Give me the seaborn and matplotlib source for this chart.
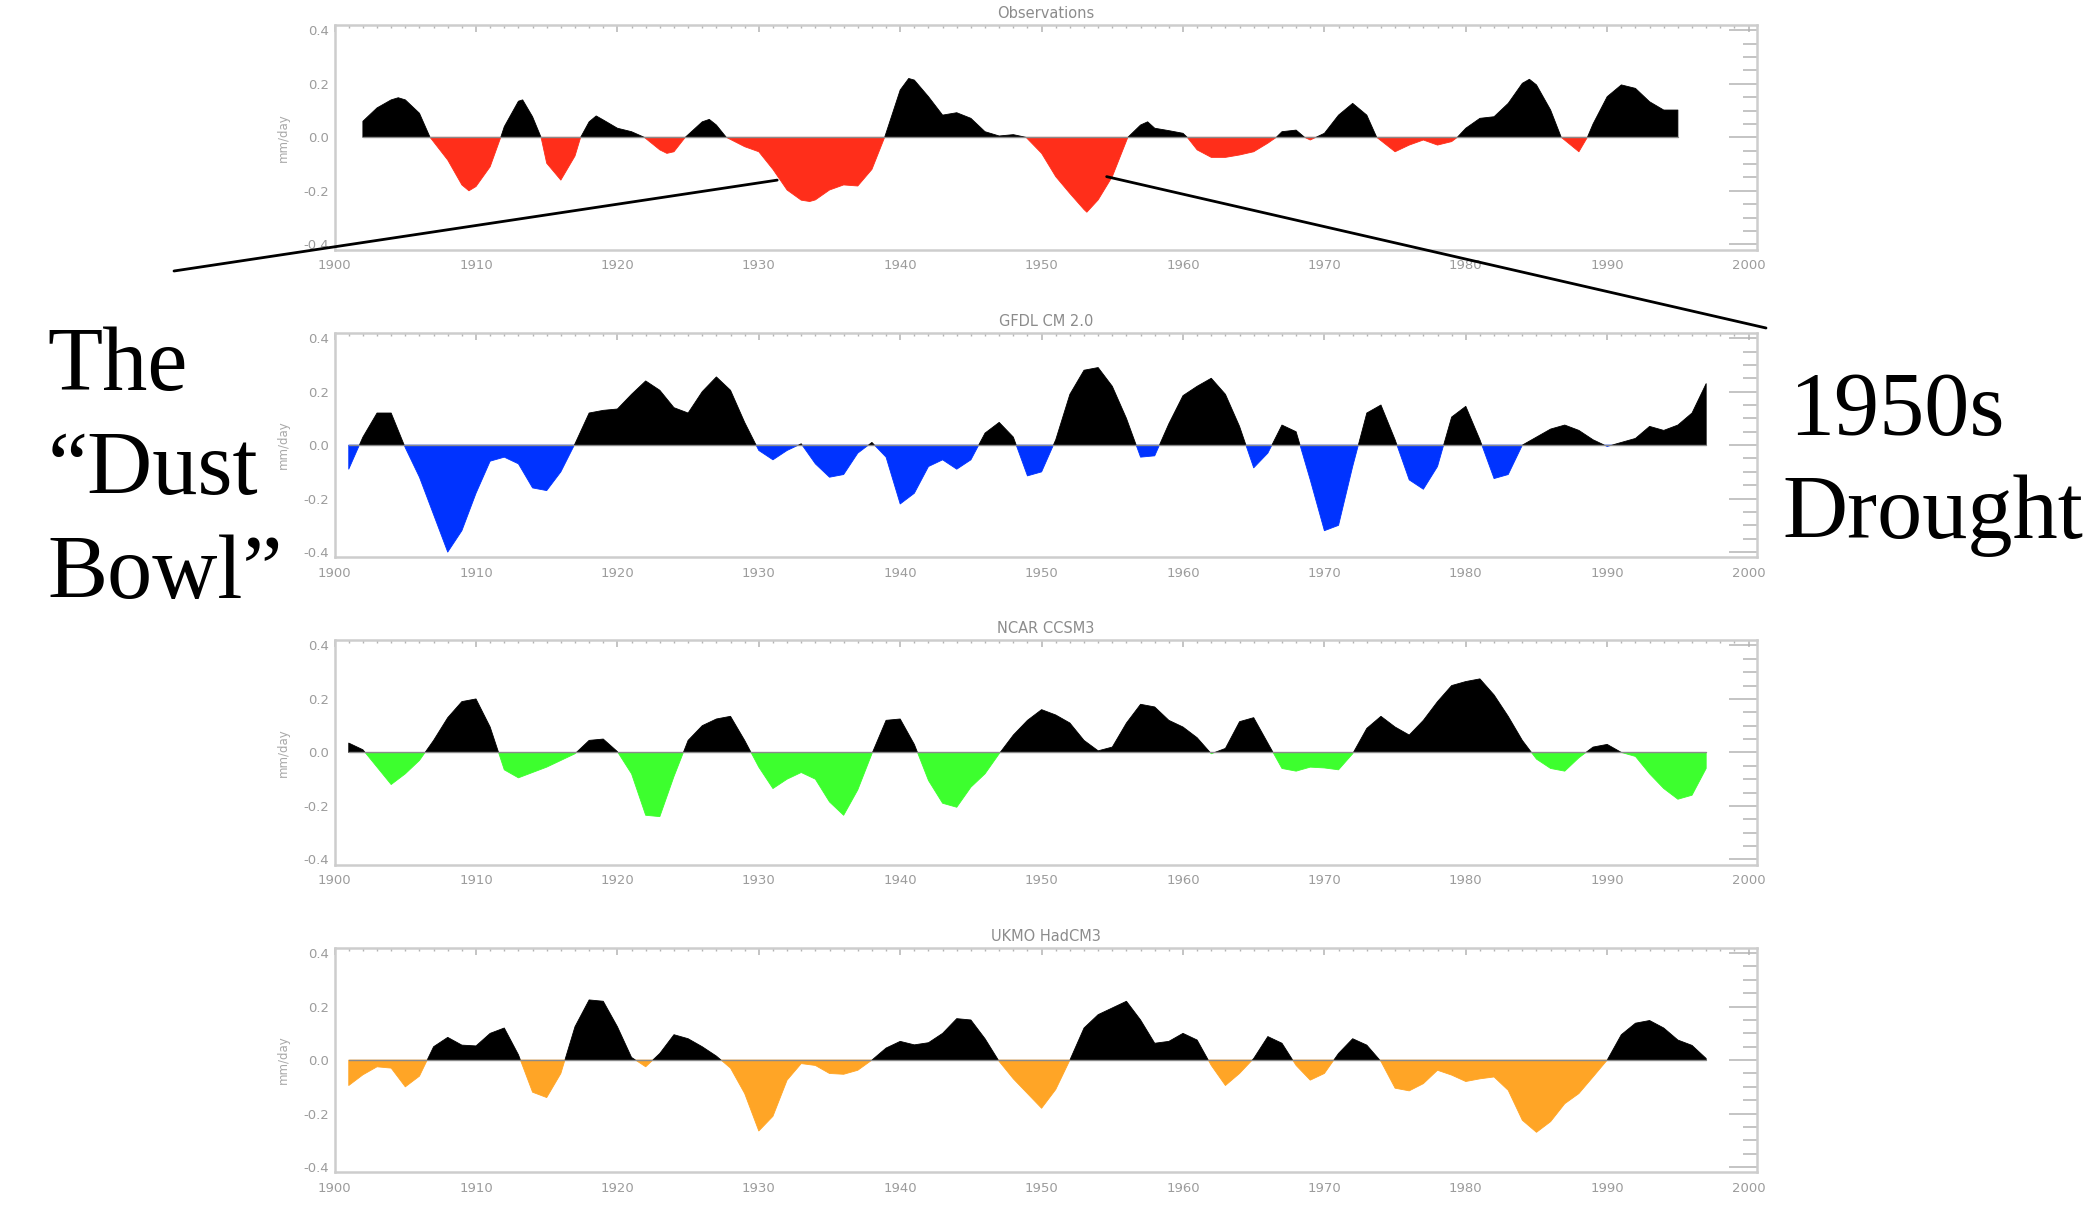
import numpy as np
import pandas as pd
import matplotlib
matplotlib.use("Agg")
import matplotlib.pyplot as plt
from matplotlib.ticker import MultipleLocator, FormatStrFormatter
from matplotlib.patches import ConnectionPatch
import seaborn as sns

# ---------------------------------------------------------------
# Smoothed precipitation anomalies (mm/day)
# ---------------------------------------------------------------
# Observations: year / value pairs (peaks and zero crossings included)
obs_years = [
    1902.0, 1903.0, 1904.0, 1904.5, 1905.0, 1906.0, 1906.75, 1908.0, 1909.0, 1909.5,
    1910.0, 1911.0, 1911.75, 1912.0, 1913.0, 1913.3, 1914.0, 1914.6, 1915.0, 1916.0,
    1917.0, 1917.4, 1918.0, 1918.5, 1919.0, 1920.0, 1921.0, 1921.9, 1923.0, 1923.5,
    1924.0, 1924.8, 1926.0, 1926.5, 1927.0, 1927.7, 1929.0, 1930.0, 1931.0, 1932.0,
    1933.0, 1933.6, 1934.0, 1935.0, 1936.0, 1937.0, 1938.0, 1938.9, 1940.0, 1940.6,
    1941.0, 1942.0, 1943.0, 1944.0, 1945.0, 1946.0, 1947.0, 1948.0, 1948.9, 1950.0,
    1951.0, 1952.0, 1953.0, 1953.2, 1954.0, 1955.0, 1956.1, 1957.0, 1957.5, 1958.0,
    1959.0, 1960.0, 1960.3, 1961.0, 1962.0, 1963.0, 1964.0, 1965.0, 1966.0, 1966.6,
    1967.0, 1968.0, 1968.6, 1969.0, 1969.4, 1970.0, 1971.0, 1972.0, 1973.0, 1973.7,
    1975.0, 1976.0, 1977.0, 1978.0, 1979.0, 1979.4, 1980.0, 1981.0, 1982.0, 1983.0,
    1984.0, 1984.5, 1985.0, 1986.0, 1986.75, 1988.0, 1988.6, 1989.0, 1990.0, 1991.0,
    1992.0, 1993.0, 1994.0, 1995.0,
]
obs_values = [
    0.06, 0.11, 0.14, 0.148, 0.14, 0.09, 0.0, -0.085, -0.178, -0.20,
    -0.184, -0.11, 0.0, 0.04, 0.135, 0.14, 0.077, 0.0, -0.097, -0.16,
    -0.07, 0.0, 0.058, 0.08, 0.065, 0.034, 0.021, 0.0, -0.047, -0.06,
    -0.054, 0.0, 0.058, 0.067, 0.046, 0.0, -0.035, -0.054, -0.12, -0.197,
    -0.235, -0.24, -0.234, -0.197, -0.178, -0.182, -0.12, 0.0, 0.177, 0.22,
    0.214, 0.152, 0.083, 0.092, 0.071, 0.021, 0.005, 0.01, 0.0, -0.06,
    -0.147, -0.21, -0.27, -0.28, -0.234, -0.147, 0.0, 0.046, 0.058, 0.034,
    0.025, 0.015, 0.0, -0.047, -0.075, -0.075, -0.066, -0.054, -0.022, 0.0,
    0.021, 0.027, 0.0, -0.01, 0.0, 0.015, 0.083, 0.127, 0.083, 0.0,
    -0.054, -0.029, -0.01, -0.029, -0.016, 0.0, 0.034, 0.071, 0.077, 0.127,
    0.202, 0.217, 0.196, 0.102, 0.0, -0.054, 0.0, 0.05, 0.152, 0.196,
    0.183, 0.133, 0.102, 0.102,
]

# Models: one value per year
gfdl_years = np.arange(1901, 1998)
gfdl_values = [
    -0.09, 0.03, 0.12, 0.12, -0.01, -0.12, -0.26, -0.40, -0.32, -0.18,      # 1901-1910
    -0.06, -0.045, -0.07, -0.16, -0.17, -0.10, 0.005, 0.12, 0.13, 0.135,    # 1911-1920
    0.19, 0.24, 0.205, 0.14, 0.12, 0.20, 0.255, 0.205, 0.085, -0.02,        # 1921-1930
    -0.055, -0.02, 0.005, -0.07, -0.12, -0.11, -0.03, 0.01, -0.045, -0.22,  # 1931-1940
    -0.18, -0.08, -0.055, -0.09, -0.055, 0.045, 0.085, 0.03, -0.115, -0.10, # 1941-1950
    0.02, 0.19, 0.28, 0.29, 0.22, 0.10, -0.045, -0.04, 0.08, 0.185,         # 1951-1960
    0.22, 0.25, 0.19, 0.07, -0.085, -0.03, 0.075, 0.05, -0.13, -0.32,       # 1961-1970
    -0.30, -0.08, 0.12, 0.15, 0.02, -0.13, -0.165, -0.08, 0.105, 0.145,     # 1971-1980
    0.02, -0.125, -0.11, 0.0, 0.03, 0.06, 0.075, 0.055, 0.02, -0.005,       # 1981-1990
    0.01, 0.025, 0.07, 0.055, 0.075, 0.12, 0.23,                            # 1991-1997
]

ncar_years = np.arange(1901, 1998)
ncar_values = [
    0.035, 0.01, -0.055, -0.12, -0.08, -0.03, 0.045, 0.13, 0.19, 0.20,      # 1901-1910
    0.095, -0.065, -0.095, -0.075, -0.055, -0.03, -0.005, 0.045, 0.05, 0.003,  # 1911-1920
    -0.08, -0.235, -0.24, -0.09, 0.045, 0.10, 0.125, 0.135, 0.045, -0.055,  # 1921-1930
    -0.135, -0.10, -0.075, -0.10, -0.185, -0.235, -0.14, -0.005, 0.12, 0.125,  # 1931-1940
    0.03, -0.105, -0.19, -0.205, -0.13, -0.08, -0.005, 0.065, 0.12, 0.16,   # 1941-1950
    0.14, 0.11, 0.045, 0.006, 0.02, 0.11, 0.18, 0.17, 0.12, 0.095,          # 1951-1960
    0.055, -0.005, 0.015, 0.115, 0.13, 0.035, -0.06, -0.07, -0.055, -0.058, # 1961-1970
    -0.065, -0.005, 0.09, 0.135, 0.095, 0.065, 0.12, 0.19, 0.25, 0.265,     # 1971-1980
    0.275, 0.215, 0.135, 0.045, -0.025, -0.06, -0.07, -0.02, 0.02, 0.03,    # 1981-1990
    0.0, -0.015, -0.08, -0.135, -0.175, -0.16, -0.06,                       # 1991-1997
]

ukmo_years = np.arange(1901, 1998)
ukmo_values = [
    -0.095, -0.055, -0.025, -0.03, -0.10, -0.06, 0.05, 0.085, 0.056, 0.053,  # 1901-1910
    0.10, 0.12, 0.02, -0.12, -0.14, -0.05, 0.125, 0.225, 0.22, 0.125,        # 1911-1920
    0.01, -0.025, 0.025, 0.095, 0.08, 0.05, 0.015, -0.03, -0.125, -0.265,    # 1921-1930
    -0.21, -0.075, -0.013, -0.02, -0.05, -0.053, -0.038, 0.0, 0.045, 0.07,   # 1931-1940
    0.057, 0.065, 0.10, 0.155, 0.15, 0.08, -0.005, -0.07, -0.125, -0.18,     # 1941-1950
    -0.11, 0.0, 0.12, 0.17, 0.195, 0.22, 0.15, 0.063, 0.07, 0.10,            # 1951-1960
    0.075, -0.02, -0.095, -0.05, 0.006, 0.088, 0.063, -0.02, -0.075, -0.05,  # 1961-1970
    0.025, 0.08, 0.056, -0.005, -0.105, -0.115, -0.088, -0.038, -0.056, -0.08,  # 1971-1980
    -0.07, -0.063, -0.113, -0.225, -0.27, -0.23, -0.163, -0.125, -0.063, 0.0,   # 1981-1990
    0.095, 0.138, 0.148, 0.12, 0.075, 0.055, 0.006,                          # 1991-1997
]

panel_titles = ["Observations", "GFDL CM 2.0", "NCAR CCSM3", "UKMO HadCM3"]
negative_colors = ["#ff2e1a", "#0033ff", "#3dff2e", "#ffa526"]
year_ticks = list(range(1900, 2001, 10))

# ---------------------------------------------------------------
sns.set_theme(style="white")
plt.rcParams["font.family"] = ["DejaVu Sans"]
plt.rcParams["axes.unicode_minus"] = False

fig = plt.figure(figsize=(20.94, 12.19), dpi=100)
fig.patch.set_facecolor("white")

left, width, height = 0.1598, 0.6793, 0.1843
bottoms = [0.7952, 0.5427, 0.2906, 0.0382]

series = [
    (obs_years, obs_values),
    (gfdl_years, gfdl_values),
    (ncar_years, ncar_values),
    (ukmo_years, ukmo_values),
]

axes = []
for (yrs, vals), title, neg, bottom in zip(series, panel_titles, negative_colors, bottoms):
    ax = fig.add_axes([left, bottom, width, height])
    df = pd.DataFrame({"year": np.asarray(yrs, dtype=float),
                       "value": np.asarray(vals, dtype=float)})
    df["zero"] = 0.0

    ax.fill_between(df["year"], df["value"], 0, where=df["value"] >= 0,
                    interpolate=True, facecolor="black", edgecolor="black", lw=0.6)
    ax.fill_between(df["year"], df["value"], 0, where=df["value"] <= 0,
                    interpolate=True, facecolor=neg, edgecolor=neg, lw=0.6)
    sns.lineplot(data=df, x="year", y="zero", ax=ax, color="#8a8a8a", lw=1.0)

    ax.set_xlim(1900, 2000.6)
    ax.set_ylim(-0.42, 0.42)
    ax.set_xticks(year_ticks)
    ax.xaxis.set_minor_locator(MultipleLocator(1))
    ax.yaxis.set_major_locator(MultipleLocator(0.2))
    ax.yaxis.set_minor_locator(MultipleLocator(0.05))
    ax.yaxis.set_major_formatter(FormatStrFormatter("%.1f"))

    ax.tick_params(axis="both", which="both", direction="in", top=True, right=True,
                   color="#b4b4b4", labelcolor="#9c9c9c", labelsize=9.5)
    ax.tick_params(axis="y", which="major", length=20, width=1.1, pad=4)
    ax.tick_params(axis="y", which="minor", length=10, width=1.1)
    ax.tick_params(axis="x", which="major", length=5, width=1.1, pad=7)
    ax.tick_params(axis="x", which="minor", length=2.5, width=1.0)

    for sp in ax.spines.values():
        sp.set_color("#cdcdcd")
        sp.set_linewidth(1.8)

    ax.set_xlabel("")
    ax.set_ylabel("mm/day", color="#a8a8a8", fontsize=8.5, labelpad=10)
    ax.set_title(title, color="#8c8c8c", fontsize=10.5, pad=5)
    ax.grid(False)
    axes.append(ax)

# ---------------------------------------------------------------
# Annotations
# ---------------------------------------------------------------
W, H = 2094.0, 1219.0
serif = ["Liberation Serif", "DejaVu Serif"]
big = 65

def fig_xy(px, py):
    return px / W, 1.0 - py / H

for txt, (px, py) in [("The", (47, 390)), ("\u201cDust", (48, 494)), ("Bowl\u201d", (47, 598))]:
    fx, fy = fig_xy(px, py)
    fig.text(fx, fy, txt, fontsize=big, family=serif, color="black",
             ha="left", va="baseline")

for txt, (px, py) in [("1950s", (1789, 435)), ("Drought", (1782, 538))]:
    fx, fy = fig_xy(px, py)
    fig.text(fx, fy, txt, fontsize=big, family=serif, color="black",
             ha="left", va="baseline")

# pointer lines from the labels to the two droughts in the observations
dust_bowl_point = (1931.3, -0.16)
fifties_point = (1954.6, -0.147)

con1 = ConnectionPatch(xyA=fig_xy(174, 271), coordsA=fig.transFigure,
                       xyB=dust_bowl_point, coordsB=axes[0].transData,
                       color="black", lw=2.0)
con2 = ConnectionPatch(xyA=fifties_point, coordsA=axes[0].transData,
                       xyB=fig_xy(1766, 328), coordsB=fig.transFigure,
                       color="black", lw=2.0)
fig.add_artist(con1)
fig.add_artist(con2)

fig.savefig("out.png", dpi=100, facecolor="white")
